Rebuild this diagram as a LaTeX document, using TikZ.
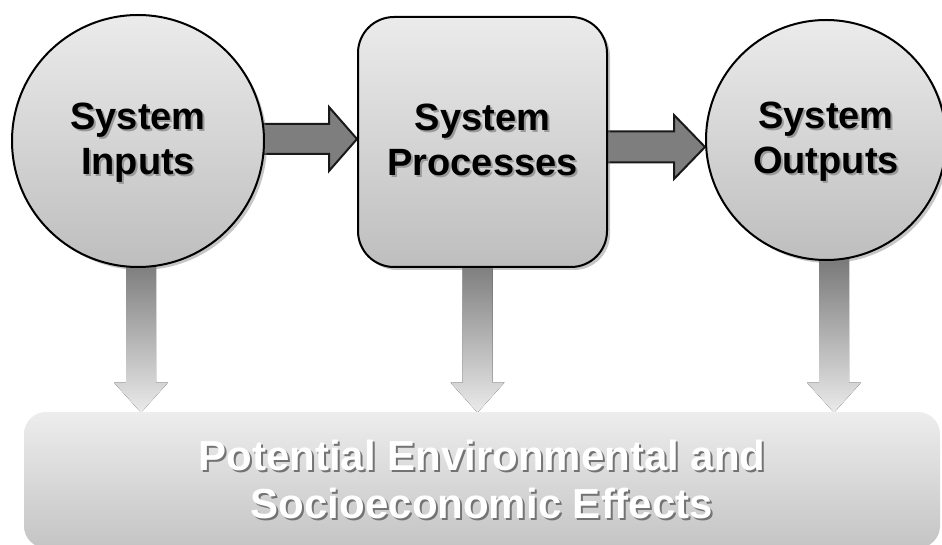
\documentclass[tikz,border=0pt]{standalone}
\usepackage{fontspec}
\setmainfont{Liberation Sans}
\usetikzlibrary{calc,shadows,backgrounds}

\definecolor{boxtop}{HTML}{EBEBEB}
\definecolor{boxbot}{HTML}{BEBEBE}
\definecolor{effbot}{HTML}{C4C4C4}
\definecolor{arrdark}{HTML}{7E7E7E}
\definecolor{arrlight}{HTML}{B9B9B9}

% text with a soft offset shadow: {text}{colour}{shadow colour}
\newcommand\shtxt[3]{\rlap{\kern1pt\raisebox{-1pt}{\color{#3}#1}}{\color{#2}#1}}
% extra room on top pushes the text a little down in its node
\newcommand\lbl[1]{\raisebox{0pt}[\dimexpr\height+3pt\relax]{\shtxt{\begin{tabular}{@{}c@{}}#1\end{tabular}}{black}{black!40}}}

\tikzset{
  stage/.style={draw=black, line width=1pt, top color=boxtop, bottom color=boxbot,
    font=\fontsize{19}{22.5}\selectfont\bfseries,
    drop shadow={shadow xshift=1.5pt, shadow yshift=-1.5pt, opacity=.45}},
  effects/.style={rounded corners=11pt, top color=boxtop!90, bottom color=effbot,
    font=\fontsize{21}{24}\selectfont\bfseries},
  flowarrow/.style={draw=black!90, line width=1pt, left color=arrdark,
    middle color=arrlight, right color=arrdark},
  downarrow/.style={top color=black!55, bottom color=black!8}
}

\begin{document}
\begin{tikzpicture}[x=0.5pt,y=-0.5pt]
    \useasboundingbox (0,0) rectangle (942,545);
    % stages
    \node[stage, circle, minimum size=126pt] (inp) at (138,141) {\lbl{System\\Inputs}};
    \node[stage, rounded corners=18pt, minimum width=124.5pt, minimum height=125pt] (proc) at (482.5,142) {\lbl{System\\Processes}};
    \node[stage, circle, minimum size=120pt] (out) at (826,140) {\lbl{System\\Outputs}};
    % effects
    \node[effects, minimum width=458pt, minimum height=68pt] (eff) at (482,480)
        {\raisebox{0pt}[\dimexpr\height+6pt\relax]{\shtxt{\begin{tabular}{@{}c@{}}Potential Environmental and\\Socioeconomic Effects\end{tabular}}{white}{black!55}}};
    \coordinate (t1) at ($(proc.west)+(0,-3)$);
    \coordinate (t2) at ($(out.west)+(0,7)$);
    \coordinate (d1) at ($(inp.south |- eff.north)+(3,1)$);
    \coordinate (d2) at ($(proc.south |- eff.north)+(-5,1)$);
    \coordinate (d3) at ($(out.south |- eff.north)+(8,1)$);
    \begin{scope}[on background layer]
        % flow arrows
        \draw[flowarrow] (t1) -- ++(-28,-32) -- ++(0,17) -- ++(-90,0) -- ++(0,30) -- ++(90,0) -- ++(0,17) -- cycle;
        \draw[flowarrow] (t2) -- ++(-31,-32) -- ++(0,16.5) -- ++(-82,0) -- ++(0,31) -- ++(82,0) -- ++(0,16.5) -- cycle;
        % effect arrows
        \foreach \d in {d1,d2,d3} {
            \fill[downarrow] (\d) -- ++(-27,-30) -- ++(12,0) -- ++(0,-132) -- ++(30,0) -- ++(0,132) -- ++(12,0) -- cycle;
        }
    \end{scope}
\end{tikzpicture}
\end{document}
